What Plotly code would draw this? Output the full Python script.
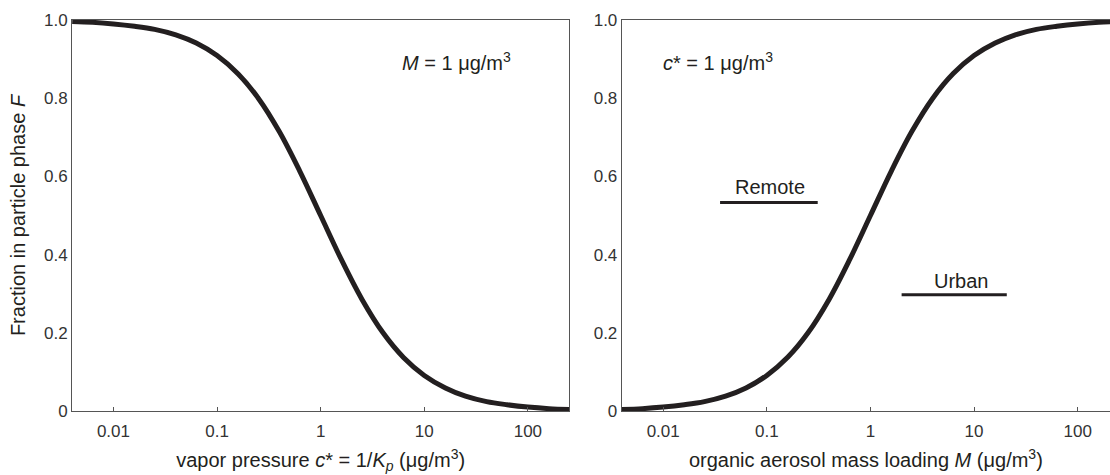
import math
import plotly.graph_objects as go

# ---- data ----
c_star = [0.004, 0.0063, 0.01, 0.016, 0.025, 0.04, 0.063, 0.1, 0.16, 0.25, 0.4, 0.63,
          1, 1.6, 2.5, 4, 6.3, 10, 16, 25, 40, 63, 100, 160, 250]
F_left = [0.996, 0.994, 0.990, 0.984, 0.976, 0.962, 0.941, 0.909, 0.862, 0.800, 0.714, 0.613,
          0.500, 0.385, 0.286, 0.200, 0.137, 0.091, 0.059, 0.038, 0.024, 0.016, 0.010, 0.006, 0.004]
M_load = [0.004, 0.0063, 0.01, 0.016, 0.025, 0.04, 0.063, 0.1, 0.16, 0.25, 0.4, 0.63,
          1, 1.6, 2.5, 4, 6.3, 10, 16, 25, 40, 63, 100, 160, 250]
F_right = [0.004, 0.006, 0.010, 0.016, 0.024, 0.038, 0.059, 0.091, 0.138, 0.200, 0.286, 0.387,
           0.500, 0.615, 0.714, 0.800, 0.863, 0.909, 0.941, 0.962, 0.976, 0.984, 0.990, 0.994, 0.996]
remote_x = [0.0354, 0.31]
remote_y = [0.533, 0.533]
urban_x = [2.0, 20.7]
urban_y = [0.297, 0.297]

x_tickvals = [0.01, 0.1, 1, 10, 100]
x_ticktext = ["0.01", "0.1", "1", "10", "100"]
y_tickvals = [0, 0.2, 0.4, 0.6, 0.8, 1.0]
y_ticktext = ["0", "0.2", "0.4", "0.6", "0.8", "1.0"]

INK = "#231f20"
AXC = "#555555"
FONT = "Liberation Sans, Arial, sans-serif"

fig = go.Figure()
fig.add_trace(go.Scatter(x=c_star, y=F_left, mode="lines", line=dict(color=INK, width=5, shape="spline"),
                         xaxis="x", yaxis="y", showlegend=False, hoverinfo="skip"))
fig.add_trace(go.Scatter(x=M_load, y=F_right, mode="lines", line=dict(color=INK, width=5, shape="spline"),
                         xaxis="x2", yaxis="y2", showlegend=False, hoverinfo="skip"))
fig.add_trace(go.Scatter(x=remote_x, y=remote_y, mode="lines", line=dict(color=INK, width=3),
                         xaxis="x2", yaxis="y2", showlegend=False, hoverinfo="skip"))
fig.add_trace(go.Scatter(x=urban_x, y=urban_y, mode="lines", line=dict(color=INK, width=3),
                         xaxis="x2", yaxis="y2", showlegend=False, hoverinfo="skip"))

xcommon = dict(type="log", showgrid=False, zeroline=False, showline=True, linecolor=AXC, linewidth=1,
               mirror=True, ticks="inside", ticklen=4, tickcolor=AXC, tickvals=x_tickvals,
               ticktext=x_ticktext, tickfont=dict(size=17, color="#333333", family=FONT),
               ticklabelstandoff=5)
ycommon = dict(range=[0, 1], showgrid=False, zeroline=False, showline=True, linecolor=AXC, linewidth=1,
               ticks="", tickvals=y_tickvals, ticktext=y_ticktext,
               tickfont=dict(size=17, color="#333333", family=FONT))

fig.update_layout(
    width=1110, height=475,
    margin=dict(l=72, r=0, t=20, b=64),
    paper_bgcolor="white", plot_bgcolor="white",
    font=dict(family=FONT, color=INK),
    xaxis=dict(xcommon, domain=[0, 0.4791], range=[-2.4, 2.4], anchor="y",
               title=dict(text="vapor pressure <i>c</i>* = 1/<i>K</i><sub><i>p</i></sub> (μg/m<sup>3</sup>)",
                          font=dict(size=20, color=INK, family=FONT), standoff=12)),
    yaxis=dict(ycommon, domain=[0, 1], anchor="x", mirror=True,
               title=dict(text="Fraction in particle phase <i>F</i>",
                          font=dict(size=20, color=INK, family=FONT), standoff=12)),
    xaxis2=dict(xcommon, domain=[0.5296, 1], range=[-2.4, 2.312], anchor="y2",
                title=dict(text="organic aerosol mass loading <i>M</i> (μg/m<sup>3</sup>)",
                           font=dict(size=20, color=INK, family=FONT), standoff=12)),
    yaxis2=dict(ycommon, domain=[0, 1], anchor="x2", mirror=False),
)

ann_font = dict(size=20, color=INK, family=FONT)
fig.add_annotation(x=math.log10(20.4), y=0.895, xref="x", yref="y", text="<i>M</i> = 1 μg/m<sup>3</sup>",
                   showarrow=False, font=ann_font)
fig.add_annotation(x=math.log10(0.034), y=0.895, xref="x2", yref="y2", text="<i>c</i>* = 1 μg/m<sup>3</sup>",
                   showarrow=False, font=ann_font)
fig.add_annotation(x=math.log10(0.107), y=0.574, xref="x2", yref="y2", text="Remote",
                   showarrow=False, font=ann_font)
fig.add_annotation(x=math.log10(7.5), y=0.333, xref="x2", yref="y2", text="Urban",
                   showarrow=False, font=ann_font)

fig.write_html("out.html")
